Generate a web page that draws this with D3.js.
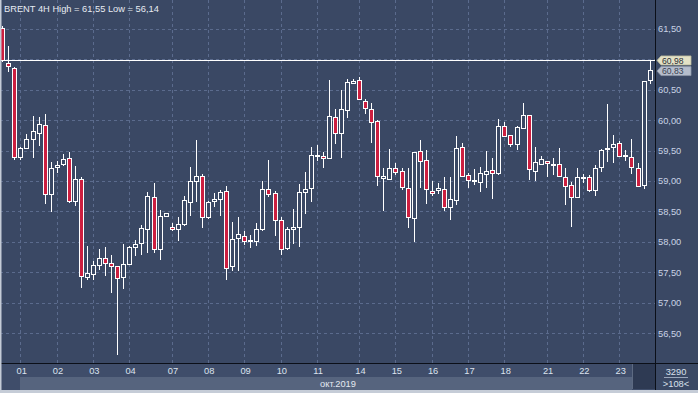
<!DOCTYPE html>
<html><head><meta charset="utf-8">
<script src="https://cdn.jsdelivr.net/npm/d3@7/dist/d3.min.js"></script>
<style>html,body{margin:0;padding:0;background:#3a4864;}svg{display:block;}</style>
</head><body>
<script>
// ---- data ----
const title = "BRENT 4H High = 61,55 Low = 56,14";
const opens = [61.51,60.94,60.86,59.40,59.54,59.69,59.79,59.92,58.78,59.23,
59.28,59.37,58.67,59.03,57.41,57.48,57.63,57.74,57.65,57.60,
57.41,57.63,57.92,57.97,58.21,58.73,57.89,58.42,58.25,58.21,
58.29,58.66,58.99,59.08,58.41,58.67,58.70,58.84,57.59,58.06,
58.10,58.01,58.02,58.21,58.86,58.80,58.36,57.90,58.21,58.24,
58.81,58.88,59.40,59.41,59.38,60.05,59.79,60.16,60.60,60.66,
60.32,60.19,59.99,59.05,59.04,59.21,59.16,58.88,58.38,59.49,
59.34,58.84,58.85,58.86,58.57,58.69,59.55,59.09,59.00,58.99,
59.11,59.18,59.13,59.91,59.75,59.60,59.87,60.08,59.17,59.28,
59.32,59.27,59.27,59.07,58.94,58.73,59.04,59.06,58.86,59.23,
59.52,59.55,59.62,59.41,59.40,59.22,58.93,60.66];
const highs = [61.55,61.22,60.88,59.55,59.77,60.07,60.05,60.10,59.31,59.33,
59.44,59.48,59.25,59.06,57.93,57.68,57.88,57.91,57.78,57.61,
57.97,57.93,58.03,58.28,58.82,58.96,58.52,58.47,58.31,58.40,
58.75,59.23,59.67,59.12,58.67,58.80,58.85,58.91,58.33,58.40,
58.17,58.11,58.31,59.00,59.34,58.83,58.40,58.24,58.54,58.95,
59.15,59.55,59.59,59.48,60.66,60.19,60.49,60.67,60.67,60.71,
60.34,60.28,60.00,59.22,59.52,59.30,59.21,59.22,59.48,59.68,
59.51,59.00,58.97,59.06,59.07,59.74,59.62,59.13,59.19,59.23,
59.49,59.37,60.01,59.97,59.76,59.90,60.28,60.09,59.55,59.41,
59.33,59.37,59.54,59.22,58.98,59.22,59.11,59.10,59.26,59.52,
60.26,59.76,59.66,59.51,59.69,59.30,60.65,60.98];
const lows = [60.95,60.79,59.34,59.35,59.52,59.38,59.57,58.62,58.49,59.13,
59.25,58.63,58.59,57.24,57.37,57.37,57.54,57.43,57.16,56.14,
57.22,57.62,57.77,57.78,57.82,57.81,57.70,58.41,58.17,58.02,
58.26,58.42,58.66,58.22,58.37,58.57,58.42,57.38,57.52,57.52,
57.94,57.90,57.93,58.17,58.73,58.09,57.78,57.86,57.96,57.92,
58.46,58.66,59.32,59.22,59.37,59.60,59.38,60.04,60.59,60.33,
60.10,59.63,58.92,58.51,59.03,59.09,58.85,58.22,58.00,58.88,
58.62,58.75,58.79,58.51,58.35,58.60,59.06,58.88,58.94,58.82,
58.89,58.70,59.10,59.73,59.55,59.51,59.86,59.01,59.00,59.27,
59.07,59.10,59.07,58.60,58.25,58.72,58.97,58.81,58.75,59.14,
59.31,59.30,59.40,59.33,59.12,58.91,58.86,60.60];
const closes = [60.98,60.89,59.39,59.54,59.69,59.82,59.94,58.78,59.21,59.26,
59.36,58.67,59.03,57.43,57.48,57.62,57.74,57.66,57.60,57.40,
57.63,57.91,57.97,58.22,58.75,57.88,58.43,58.47,58.21,58.29,
58.69,59.00,59.08,58.40,58.65,58.71,58.81,57.58,58.04,58.12,
58.01,58.03,58.21,58.86,58.77,58.36,57.89,58.21,58.25,58.81,
58.86,59.43,59.42,59.37,60.07,59.78,60.18,60.62,60.64,60.34,
60.21,59.98,59.09,59.08,59.22,59.14,58.89,58.40,59.47,59.32,
58.86,58.81,58.88,58.57,58.70,59.54,59.08,59.00,59.02,59.13,
59.16,59.13,59.91,59.74,59.60,59.88,60.09,59.19,59.31,59.36,
59.28,59.28,59.08,58.93,58.74,59.06,59.06,58.85,59.22,59.51,
59.54,59.60,59.41,59.43,59.23,58.92,60.64,60.83];
const dayLabels = ["01","02","03","04","07","08","09","10","11","14","15","16","17","18","21","22","23"];
const dayBars   = [3,9,15,21,28,34,40,46,52,59,65,71,77,83,90,96,102];
const gridTicks = [56.5,57,57.5,58,58.5,59,59.5,60,60.5,61,61.5];
const labelTicks = [56.5,57,57.5,58,58.5,59,59.5,60,60.5,61.5]; // 61,00 is hidden under the price tags
const monthLabel = "окт.2019";
const lineLevel = 60.98;
const tags = [{v:60.83, label:"60,83"},{v:60.98, label:"60,98"}];
const volText = "3290", barsText = ">108<";

// ---- layout ----
const W = 698, H = 393;
const plotRight = 655, plotBottom = 364;
const BG = "#3a4864", RED = "#cc1f40", GRID = "#5b6b8d";
const FONT = "'Liberation Sans', Arial, sans-serif";

const bars = d3.range(opens.length);
const x = d3.scaleLinear().domain([0, bars.length - 1]).range([2.25, 2.25 + 6.05 * (bars.length - 1)]);
const y = d3.scaleLinear().domain([56.5, 61.5]).range([333.05, 28.8]);
const fmt = v => d3.format(".2f")(v).replace(".", ",");

const svg = d3.select("body").append("svg").attr("width", W).attr("height", H);
svg.append("rect").attr("width", W).attr("height", H).attr("fill", BG);

// bottom strip
svg.append("rect").attr("x", 0).attr("y", plotBottom).attr("width", plotRight).attr("height", H - plotBottom).attr("fill", "#3f4d6a");
svg.append("rect").attr("x", 20).attr("y", 377).attr("width", 612).attr("height", 13).attr("fill", "#56647e");
svg.append("rect").attr("x", 632).attr("y", plotBottom).attr("width", plotRight - 632).attr("height", 25).attr("fill", "#2e3a53");
svg.append("line").attr("x1", 632.5).attr("x2", 632.5).attr("y1", plotBottom).attr("y2", 389).attr("stroke", "#5d6a82");

const plot = svg.append("g");
plot.append("clipPath").attr("id", "clip").append("rect").attr("x", 1).attr("y", 0).attr("width", plotRight - 1).attr("height", plotBottom);

// grid
const grid = plot.append("g").attr("stroke", GRID).attr("stroke-dasharray", "3,3").attr("shape-rendering", "crispEdges");
grid.selectAll(".h").data(gridTicks).join("line")
  .attr("x1", 0).attr("x2", plotRight).attr("y1", d => Math.round(y(d)) + 0.5).attr("y2", d => Math.round(y(d)) + 0.5);
grid.selectAll(".v").data(dayBars).join("line")
  .attr("y1", 0).attr("y2", plotBottom).attr("x1", d => Math.round(x(d)) + 0.5).attr("x2", d => Math.round(x(d)) + 0.5);

// level line
plot.append("line").attr("x1", 0).attr("x2", plotRight).attr("y1", Math.round(y(lineLevel)) + 0.5).attr("y2", Math.round(y(lineLevel)) + 0.5)
  .attr("stroke", "#ffffff").attr("stroke-width", 1).attr("shape-rendering", "crispEdges");

// candles
const cg = plot.append("g").attr("clip-path", "url(#clip)").attr("shape-rendering", "crispEdges");
const c = cg.selectAll("g").data(bars).join("g");
c.append("line")
  .attr("x1", i => Math.round(x(i)) + 0.5).attr("x2", i => Math.round(x(i)) + 0.5)
  .attr("y1", i => y(highs[i])).attr("y2", i => y(lows[i]))
  .attr("stroke", "#ffffff").attr("stroke-width", 1);
c.append("rect")
  .attr("x", i => Math.round(x(i)) - 1.5)
  .attr("width", 4)
  .attr("y", i => Math.round(y(Math.max(opens[i], closes[i]))) + 0.5)
  .attr("height", i => Math.max(1, Math.round(Math.abs(y(opens[i]) - y(closes[i])))))
  .attr("fill", i => closes[i] >= opens[i] ? BG : RED)
  .attr("stroke", "#ffffff").attr("stroke-width", 1);

// frame lines
svg.append("line").attr("x1", 0).attr("x2", W).attr("y1", plotBottom - 0.5).attr("y2", plotBottom - 0.5).attr("stroke", "#0b0f18");
svg.append("line").attr("x1", plotRight + 0.5).attr("x2", plotRight + 0.5).attr("y1", 0).attr("y2", H).attr("stroke", "#0b0f18");

// right price axis
const yAxis = d3.axisRight(y).tickValues(labelTicks).tickSize(0).tickPadding(3).tickFormat(fmt);
const ya = svg.append("g").attr("transform", `translate(${plotRight},0)`).call(yAxis);
ya.select(".domain").remove();
ya.selectAll("text").attr("fill", "#c9d3e6").attr("font-family", FONT).attr("font-size", "9.3px");

// bottom date axis
const xAxis = d3.axisBottom(x).tickValues(dayBars).tickSize(0).tickPadding(0).tickFormat((d, i) => dayLabels[i]);
const xa = svg.append("g").attr("transform", `translate(0.8,${plotBottom})`).call(xAxis);
xa.select(".domain").remove();
xa.selectAll("text").attr("fill", "#dce3ee").attr("font-family", FONT).attr("font-size", "9.3px").attr("y", 3).attr("dy", "0.71em");

svg.append("text").attr("x", 338).attr("y", 386.5).attr("text-anchor", "middle")
  .attr("fill", "#e4e9f1").attr("font-family", FONT).attr("font-size", "9.3px").text(monthLabel);

// title
svg.append("text").attr("x", 4).attr("y", 12).attr("fill", "#e8ecf3").attr("font-family", FONT).attr("font-size", "9.3px").text(title);

// price tags (lower one drawn first, touching the upper one as in the reference)
const tg = svg.append("g");
tags.forEach((t, k) => {
  const ty = y(t.v) + (k === 0 ? 1.5 : 0);
  const g = tg.append("g");
  g.append("path")
    .attr("d", `M${plotRight + 2},${ty} L${plotRight + 6},${ty - 4.5} L${plotRight + 36},${ty - 4.5} L${plotRight + 36},${ty + 4.5} L${plotRight + 6},${ty + 4.5} Z`)
    .attr("fill", k === 1 ? "#e4e2c6" : "#b5bdcc").attr("stroke", k === 1 ? "#b9b79c" : "#8e97a8").attr("stroke-width", 0.8);
  g.append("text").attr("x", plotRight + 7).attr("y", ty + 3.1).attr("fill", k === 1 ? "#2a2e36" : "#3a4252")
    .attr("font-family", FONT).attr("font-size", "8.6px").text(t.label);
});

// bottom right info
svg.append("text").attr("x", 676).attr("y", 374.5).attr("text-anchor", "middle").attr("fill", "#d9e0ec")
  .attr("font-family", FONT).attr("font-size", "9.3px").text(volText);
svg.append("line").attr("x1", 664).attr("x2", 688).attr("y1", 377.5).attr("y2", 377.5).attr("stroke", "#9aa6bb");
svg.append("text").attr("x", 676).attr("y", 386.5).attr("text-anchor", "middle").attr("fill", "#d9e0ec")
  .attr("font-family", FONT).attr("font-size", "9.3px").text(barsText);

// outer border
svg.append("rect").attr("x", 0).attr("y", 390).attr("width", W).attr("height", 3).attr("fill", "#c5ccd7");
svg.append("rect").attr("x", 0).attr("y", 0).attr("width", 1.5).attr("height", H).attr("fill", "#c5ccd7");
</script>
</body></html>
